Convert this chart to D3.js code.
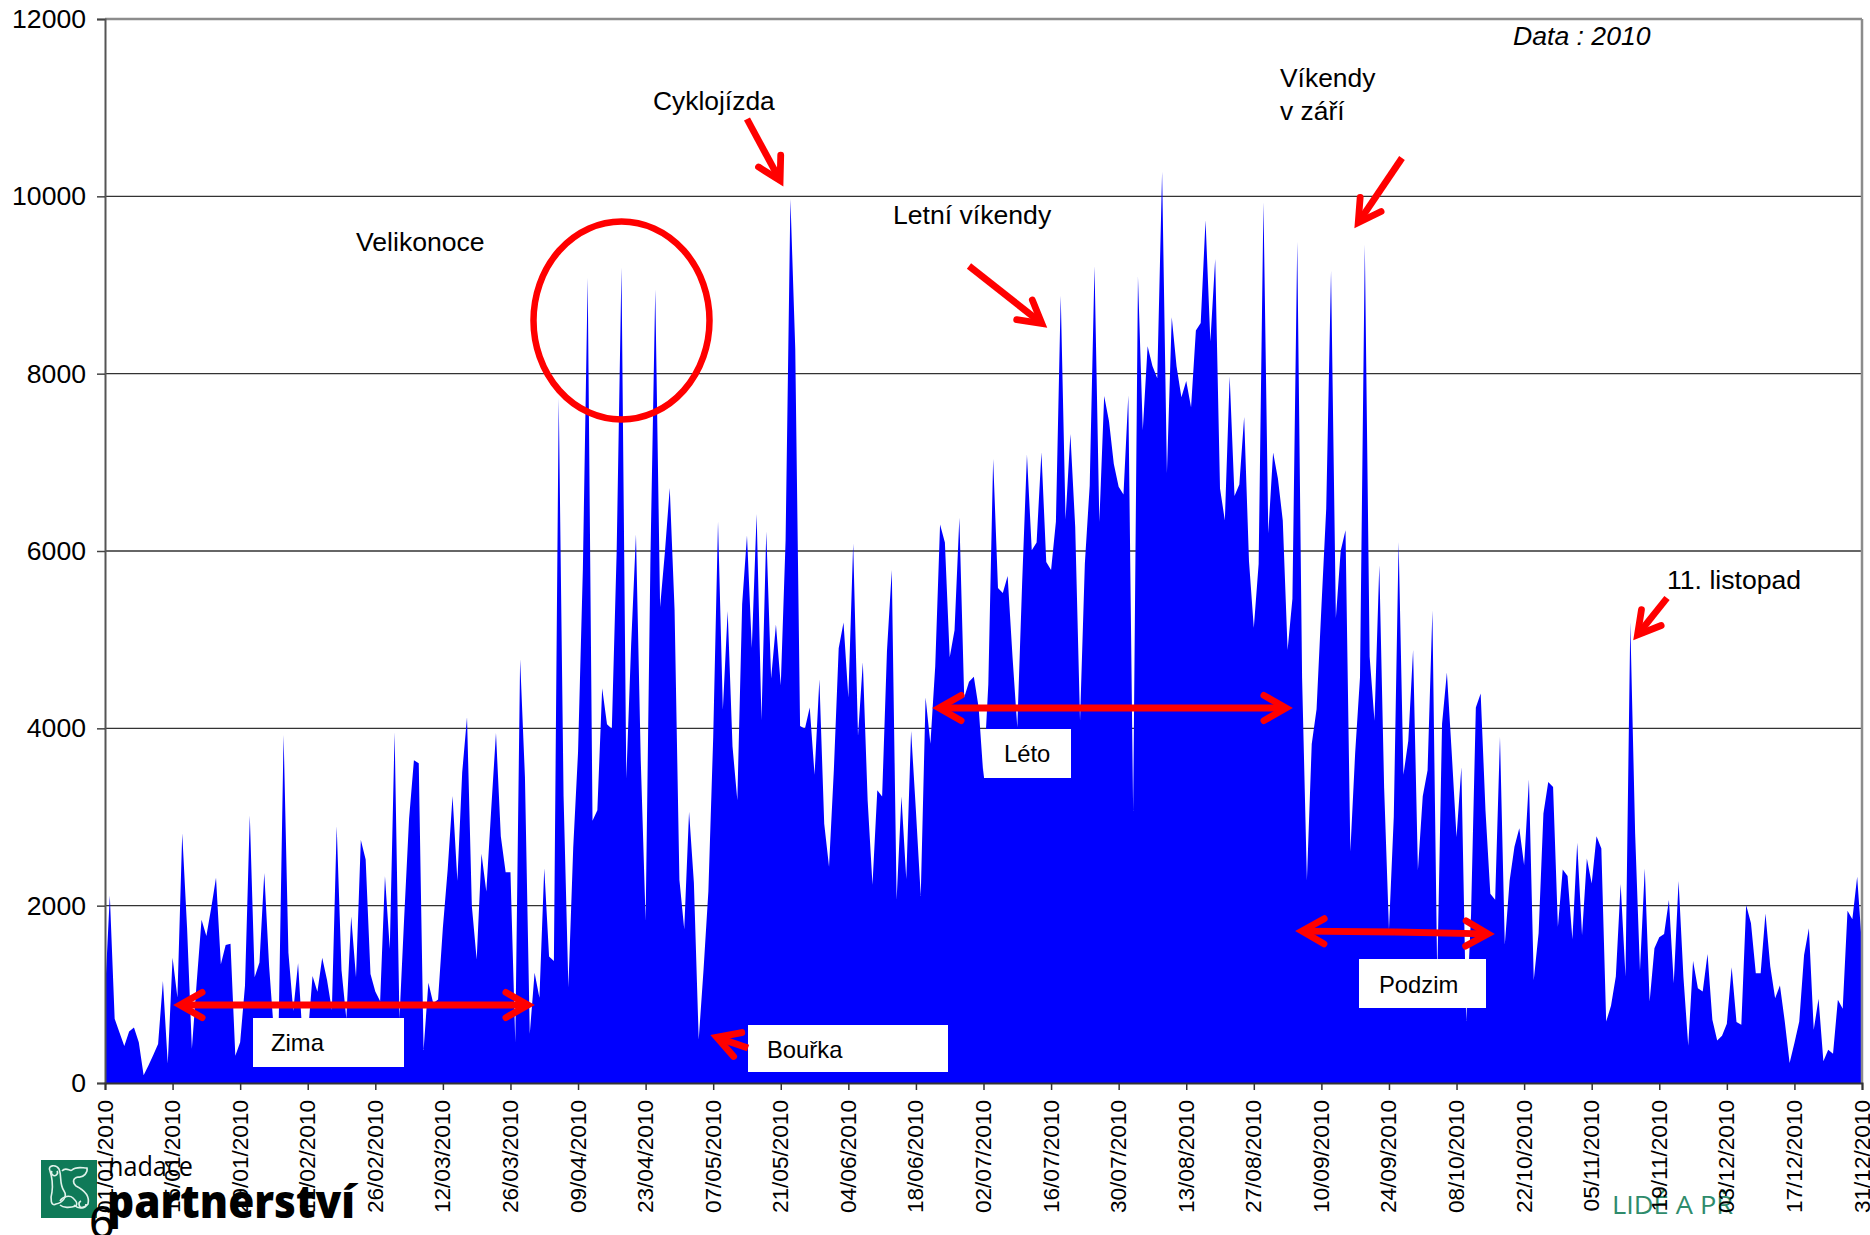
<!DOCTYPE html>
<html>
<head>
<meta charset="utf-8">
<style>
  body { margin: 0; background: #fff; }
  text { font-family: "Liberation Sans", Arial, sans-serif; fill: #000; }
</style>
<script src="https://d3js.org/d3.v7.min.js"></script>
</head>
<body>
<svg id="chart" width="1870" height="1235"></svg>
<script>
// daily counts for 2010, one row per 10 days
const dailyCounts = [
  1000, 2114, 724, 570, 417, 580, 627, 460, 88, 197,
  316, 439, 1149, 219, 1412, 965, 2816, 1754, 386, 1140,
  1842, 1658, 1974, 2316, 1338, 1557, 1570, 307, 460, 1096,
  3017, 1193, 1360, 2368, 1316, 570, 730, 3925, 1469, 811,
  1351, 440, 526, 1206, 1030, 1412, 1162, 824, 2895, 1272,
  724, 1877, 1193, 2741, 2522, 1228, 1031, 921, 2333, 1513,
  3956, 724, 1886, 2982, 3640, 3605, 373, 1131, 900, 943,
  1754, 2412, 3237, 2280, 3503, 4124, 1997, 1394, 2586, 2160,
  3077, 3948, 2782, 2377, 2377, 458, 4779, 3450, 556, 1244,
  962, 2422, 1427, 1375, 7725, 3240, 1080, 2650, 3731, 5794,
  9081, 2959, 3077, 4452, 4046, 3994, 5990, 9198, 3437, 4943,
  6187, 3633, 1833, 5925, 8950, 5368, 5990, 6710, 5336, 2291,
  1735, 3058, 2259, 491, 1277, 2160, 3895, 6331, 4210, 5323,
  3797, 3188, 5401, 6174, 4910, 6416, 4092, 6220, 4563, 5172,
  4485, 6120, 9971, 8282, 4026, 3994, 4236, 3476, 4553, 2923,
  2440, 3534, 4902, 5193, 4349, 6084, 3913, 4745, 3185, 2236,
  3301, 3231, 4873, 5787, 2067, 3231, 2300, 3971, 3068, 2108,
  4349, 3825, 4699, 6300, 6096, 4803, 5106, 6375, 4349, 4524,
  4582, 4233, 3447, 4500, 7039, 5584, 5525, 5718, 4815, 4012,
  5630, 7086, 6009, 6096, 7115, 5875, 5787, 6329, 8879, 6358,
  7319, 6271, 4087, 5863, 6736, 9211, 6329, 7749, 7464, 6981,
  6725, 6637, 7755, 3068, 9094, 7365, 8308, 8087, 7947, 10276,
  6882, 8637, 8080, 7733, 7917, 7622, 8487, 8572, 9731, 8362,
  9292, 6705, 6345, 7969, 6620, 6751, 7511, 5886, 5133, 5854,
  9934, 6200, 7111, 6816, 6345, 4884, 5461, 9489, 4576, 2284,
  3823, 4216, 5362, 6476, 9161, 5244, 6004, 6234, 2611, 3725,
  4576, 9456, 4806, 4085, 5840, 3330, 1727, 3004, 6102, 3476,
  3856, 4884, 2402, 3234, 3528, 5330, 1200, 4052, 4629, 3725,
  2775, 3561, 699, 1891, 4236, 4393, 3070, 2133, 2068, 3902,
  1563, 2284, 2664, 2873, 2458, 3422, 1163, 1688, 3039, 3396,
  3339, 1763, 2409, 2334, 1621, 2709, 1670, 2533, 2251, 2784,
  2645, 694, 870, 1200, 2244, 1200, 5197, 2814, 1268, 2420,
  919, 1520, 1643, 1681, 2064, 1126, 2277, 1200, 420, 1377,
  1069, 1032, 1456, 713, 480, 533, 668, 1306, 687, 657,
  2007, 1801, 1238, 1238, 1913, 1313, 957, 1099, 694, 225,
  450, 694, 1445, 1745, 600, 949, 244, 375, 330, 938,
  837, 1944, 1846, 2326, 1538
];
const xTickLabels = [
  '01/01/2010', '15/01/2010', '29/01/2010', '12/02/2010', '26/02/2010', '12/03/2010', '26/03/2010',
  '09/04/2010', '23/04/2010', '07/05/2010', '21/05/2010', '04/06/2010', '18/06/2010', '02/07/2010',
  '16/07/2010', '30/07/2010', '13/08/2010', '27/08/2010', '10/09/2010', '24/09/2010', '08/10/2010',
  '22/10/2010', '05/11/2010', '19/11/2010', '03/12/2010', '17/12/2010', '31/12/2010'
];
const yTicks = [0, 2000, 4000, 6000, 8000, 10000, 12000];
const gridTicks = [2000, 4000, 6000, 8000, 10000];

const svg = d3.select('#chart');
const plotLeft = 105, plotRight = 1862, plotTop = 19, plotBottom = 1083;

const x = d3.scaleLinear().domain([0, dailyCounts.length - 1]).range([plotLeft, plotRight]);
const y = d3.scaleLinear().domain([0, 12000]).range([plotBottom, plotTop]);

// logo goes under the axis labels
drawLogo();

// grid
svg.selectAll('line.grid')
  .data(gridTicks)
  .enter()
  .append('line')
  .attr('class', 'grid')
  .attr('x1', plotLeft)
  .attr('x2', plotRight)
  .attr('y1', d => y(d))
  .attr('y2', d => y(d))
  .attr('stroke', '#333')
  .attr('stroke-width', 1.3);

// area
const area = d3.area()
  .x((d, i) => x(i))
  .y0(y(0))
  .y1(d => y(d));

svg.append('path')
  .datum(dailyCounts)
  .attr('d', area)
  .attr('fill', '#0000ff');

// frame
svg.append('line').attr('x1', plotLeft).attr('x2', plotRight).attr('y1', plotTop).attr('y2', plotTop)
  .attr('stroke', '#8c8c8c').attr('stroke-width', 2.5);
svg.append('line').attr('x1', plotRight).attr('x2', plotRight).attr('y1', plotTop).attr('y2', plotBottom)
  .attr('stroke', '#8c8c8c').attr('stroke-width', 2.5);

// axes
const yAxis = d3.axisLeft(y).tickValues(yTicks).tickSize(8).tickPadding(11).tickFormat(d3.format('d'));
const yG = svg.append('g').attr('transform', 'translate(' + plotLeft + ',0)').call(yAxis);
yG.select('.domain').attr('stroke', '#555').attr('stroke-width', 2);
yG.selectAll('.tick line').attr('stroke', '#444').attr('stroke-width', 1.5);
yG.attr('font-family', null).attr('font-size', null);
yG.selectAll('text').style('font-size', '26.6px');

const xAxis = d3.axisBottom(x)
  .tickValues(d3.range(0, dailyCounts.length, 14))
  .tickSize(7)
  .tickFormat((d, i) => xTickLabels[i]);
const xG = svg.append('g').attr('transform', 'translate(0,' + plotBottom + ')').call(xAxis);
xG.attr('font-family', null).attr('font-size', null);
xG.select('.domain').attr('stroke', '#333').attr('stroke-width', 2);
xG.selectAll('.tick line').attr('stroke', '#333').attr('stroke-width', 1.5);
xG.selectAll('text')
  .style('font-size', '22.6px')
  .attr('text-anchor', 'end')
  .attr('dy', 0)
  .attr('y', 0)
  .attr('transform', 'translate(7,17) rotate(-90)');

// white label boxes
const boxes = [
  { x: 253, y: 1018, w: 151, h: 49 },
  { x: 748, y: 1025, w: 200, h: 47 },
  { x: 984, y: 729, w: 87, h: 49 },
  { x: 1359, y: 959, w: 127, h: 49 }
];
svg.selectAll('rect.box')
  .data(boxes)
  .enter()
  .append('rect')
  .attr('class', 'box')
  .attr('x', d => d.x)
  .attr('y', d => d.y)
  .attr('width', d => d.w)
  .attr('height', d => d.h)
  .attr('fill', '#fff');

// labels
const notes = [
  { t: 'Cyklojízda', x: 653, y: 110, s: 26.4 },
  { t: 'Velikonoce', x: 356, y: 251, s: 26.6 },
  { t: 'Letní víkendy', x: 893, y: 224, s: 26.6 },
  { t: 'Víkendy', x: 1280, y: 87, s: 26.4 },
  { t: 'v září', x: 1280, y: 120, s: 26.4 },
  { t: '11. listopad', x: 1667, y: 589, s: 26.6 },
  { t: 'Zima', x: 271, y: 1051, s: 23.8 },
  { t: 'Bouřka', x: 767, y: 1058, s: 23.8 },
  { t: 'Léto', x: 1004, y: 762, s: 23.8 },
  { t: 'Podzim', x: 1379, y: 993, s: 23.8 }
];
svg.selectAll('text.note')
  .data(notes)
  .enter()
  .append('text')
  .attr('class', 'note')
  .attr('x', d => d.x)
  .attr('y', d => d.y)
  .style('font-size', d => d.s + 'px')
  .text(d => d.t);

svg.append('text')
  .attr('x', 1513)
  .attr('y', 45)
  .style('font-size', '26.6px')
  .style('font-style', 'italic')
  .text('Data : 2010');

// red annotations
svg.append('ellipse')
  .attr('cx', 621.5)
  .attr('cy', 320.5)
  .attr('rx', 88)
  .attr('ry', 99)
  .attr('fill', 'none')
  .attr('stroke', '#ff0000')
  .attr('stroke-width', 6.5);

drawArrow(747, 119, 782, 184);
drawArrow(969, 266, 1045, 326);
drawArrow(1402, 158, 1356, 226);
drawArrow(1667, 598, 1635, 638);
drawArrow(748, 1048, 713, 1036);
drawArrow(354, 1005, 176, 1005);
drawArrow(354, 1005, 532, 1005);
drawArrow(1112, 708, 935, 708);
drawArrow(1112, 708, 1290, 708);
drawArrow(1395, 932, 1298, 931);
drawArrow(1395, 932, 1492, 934);

/**
 * red line with an open head at the x2,y2 end
 */
function drawArrow(x1, y1, x2, y2) {
  const angle = Math.atan2(y2 - y1, x2 - x1);
  const len = 29;
  const spread = 0.45;
  const arm = a => [x2 - len * Math.cos(a), y2 - len * Math.sin(a)];
  const a1 = arm(angle - spread);
  const a2 = arm(angle + spread);
  svg.append('line')
    .attr('x1', x1)
    .attr('y1', y1)
    .attr('x2', x2 - 6 * Math.cos(angle))
    .attr('y2', y2 - 6 * Math.sin(angle))
    .attr('stroke', '#ff0000')
    .attr('stroke-width', 6.8);
  svg.append('path')
    .attr('d', 'M' + a1 + 'L' + [x2 - 4 * Math.cos(angle), y2 - 4 * Math.sin(angle)] + 'L' + a2)
    .attr('fill', 'none')
    .attr('stroke', '#ff0000')
    .attr('stroke-width', 6.8)
    .attr('stroke-linecap', 'round')
    .attr('stroke-linejoin', 'miter')
    .attr('stroke-miterlimit', 10);
}

function drawLogo() {
  const g = svg.append('g');
  g.append('rect').attr('x', 41).attr('y', 1160).attr('width', 56).attr('height', 58).attr('fill', '#0f7a58');
  // rough hand drawn mark inside the square
  const marks = [
    'M50 1171 C47 1165 56 1164 59 1169 C62 1176 59 1184 64 1191 C68 1197 62 1203 56 1204 C51 1207 50 1199 52 1192 C53 1184 52 1177 50 1171 Z',
    'M62 1171 C66 1166 70 1172 72 1170 C76 1166 82 1168 87 1168 C88 1172 84 1178 78 1177 C73 1178 72 1182 76 1186 C84 1190 90 1196 88 1204 C84 1209 78 1209 74 1205',
    'M60 1201 C63 1196 70 1195 73 1198 C76 1201 78 1203 76 1206 C70 1208 63 1208 60 1205',
    'M52 1171 a3 3 0 1 0 5 0',
    'M81 1201 a3.5 3.5 0 1 0 5 3'
  ];
  g.selectAll('path')
    .data(marks)
    .enter()
    .append('path')
    .attr('d', d => d)
    .attr('fill', 'none')
    .attr('stroke', '#dff2ea')
    .attr('stroke-width', 1.6);

  g.append('text')
    .attr('x', 108)
    .attr('y', 1176)
    .attr('textLength', 85)
    .attr('lengthAdjust', 'spacingAndGlyphs')
    .style('font-family', '"Open Sans"')
    .style('font-size', '28px')
    .text('nadace');
  g.append('text')
    .attr('x', 107)
    .attr('y', 1218)
    .attr('textLength', 248)
    .attr('lengthAdjust', 'spacingAndGlyphs')
    .style('font-family', '"Open Sans"')
    .style('font-weight', 800)
    .style('font-size', '46px')
    .text('partnerství');
  g.append('text')
    .attr('x', 89)
    .attr('y', 1238)
    .style('font-size', '46px')
    .text('6');
  g.append('text')
    .attr('x', 1612)
    .attr('y', 1214)
    .attr('textLength', 121)
    .attr('lengthAdjust', 'spacingAndGlyphs')
    .style('font-family', '"Open Sans"')
    .style('font-size', '25px')
    .style('fill', '#2e8b6b')
    .text('LIDÉ A PŘ');
}
</script>
</body>
</html>
